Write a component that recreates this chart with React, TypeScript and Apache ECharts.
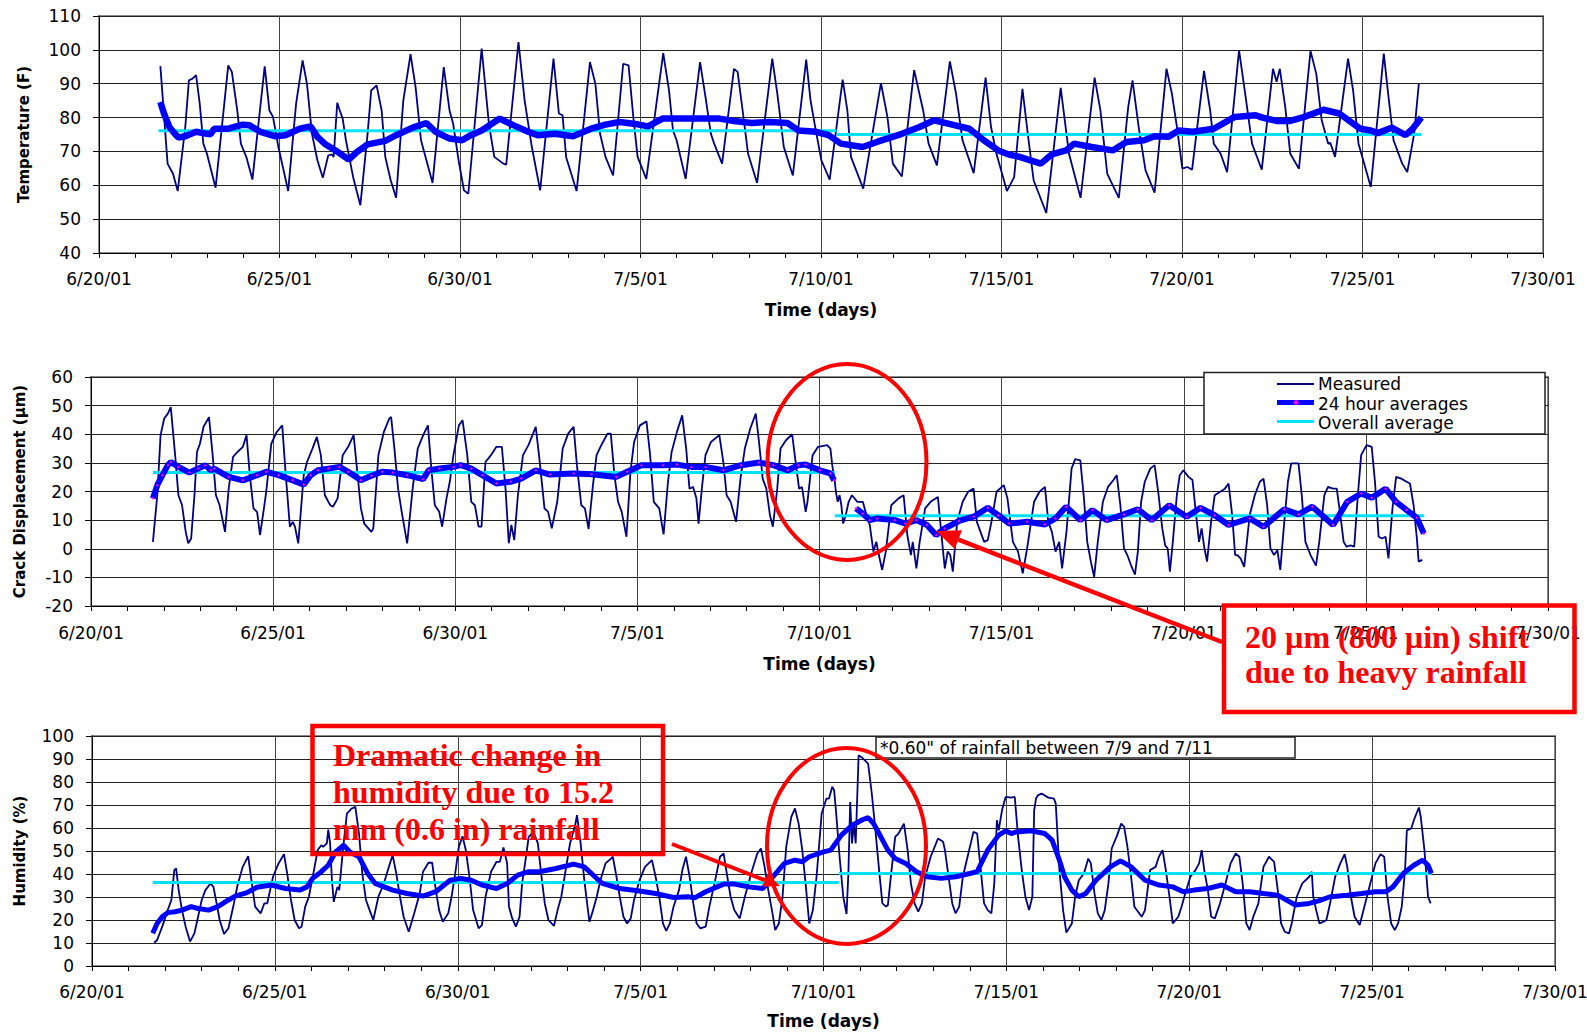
import React, { useEffect, useRef } from "react";
import * as echarts from "echarts";

// Major tick labels on the shared time axis (one every 5 days starting 6/20/01)
const dateTicks = ["6/20/01", "6/25/01", "6/30/01", "7/5/01", "7/10/01", "7/15/01", "7/20/01", "7/25/01", "7/30/01"];

type Pt = [number, number]; // [days since 6/20/01, value]

// ---------- Temperature (F) ----------
const tempMeasured: Pt[] = [
  [1.70,95.2],[1.90,66.4],[2.05,63.4],[2.18,58.3],[2.39,77.2],[2.49,91.0],[2.59,91.5],[2.69,92.5],[2.79,84.1],[2.89,72.3],[2.99,69.3],[3.23,59.3],
  [3.58,95.4],[3.68,93.5],[3.83,82.1],[3.93,72.3],[4.08,68.4],[4.25,61.7],[4.59,95.1],[4.72,82.1],[4.82,80.2],[4.97,71.3],[5.24,58.3],[5.46,84.1],
  [5.64,96.9],[5.76,90.0],[5.90,75.2],[6.05,67.4],[6.20,62.2],[6.35,68.8],[6.45,69.1],[6.50,68.4],[6.60,84.4],[6.67,82.1],[6.75,79.7],[6.84,73.3],
  [7.04,62.4],[7.24,54.1],[7.44,75.2],[7.54,88.0],[7.69,89.5],[7.83,82.1],[7.93,68.4],[8.08,61.5],[8.23,56.3],[8.43,85.1],[8.63,98.7],[8.77,89.0],
  [8.92,73.3],[9.07,67.4],[9.24,60.7],[9.55,94.9],[9.71,82.1],[9.81,78.2],[9.96,67.4],[10.11,58.5],[10.23,57.5],[10.60,100.4],[10.80,78.2],[10.95,68.4],
  [11.20,66.4],[11.28,66.1],[11.62,102.3],[11.79,85.1],[11.99,71.3],[12.22,58.5],[12.59,97.4],[12.74,81.2],[12.84,80.7],[12.94,68.3],[13.23,58.3],
  [13.60,96.4],[13.75,90.0],[13.88,75.2],[14.03,68.4],[14.24,62.9],[14.52,95.9],[14.67,95.4],[14.80,80.2],[14.92,68.4],[15.16,61.9],[15.63,99.0],
  [15.79,88.0],[15.90,76.2],[16.00,73.3],[16.25,61.9],[16.65,96.4],[16.80,86.1],[16.95,75.2],[17.04,72.3],[17.26,66.4],[17.59,94.4],[17.69,93.5],
  [17.84,81.2],[17.98,69.3],[18.23,60.7],[18.65,97.4],[18.79,87.1],[18.97,71.3],[19.22,62.9],[19.59,97.1],[19.71,85.1],[19.84,77.2],[20.01,67.4],
  [20.24,61.7],[20.60,91.2],[20.73,82.1],[20.83,68.4],[21.17,59.0],[21.66,90.2],[21.84,80.2],[21.99,66.4],[22.24,62.6],[22.58,94.0],[22.83,82.1],
  [22.98,72.3],[23.21,65.9],[23.57,96.6],[23.74,87.1],[23.92,73.3],[24.23,63.6],[24.56,91.8],[24.71,77.2],[24.86,69.3],[25.15,58.3],[25.35,62.4],
  [25.58,88.5],[25.75,73.3],[25.89,61.5],[26.24,51.8],[26.64,88.8],[26.87,69.3],[27.19,56.3],[27.58,91.8],[27.74,82.1],[27.93,63.4],[28.25,56.3],
  [28.51,83.1],[28.63,91.0],[28.80,77.2],[28.99,64.4],[29.24,57.8],[29.57,94.4],[29.72,87.1],[29.86,77.2],[30.01,64.9],[30.15,65.4],[30.28,64.6],
  [30.61,93.8],[30.78,82.1],[30.88,72.3],[31.07,69.3],[31.25,63.9],[31.58,99.9],[31.75,87.1],[31.94,72.3],[32.21,64.6],[32.52,94.4],[32.62,90.6],
  [32.71,94.4],[32.86,83.1],[33.00,69.3],[33.24,64.9],[33.56,99.7],[33.72,92.9],[33.87,79.2],[34.05,72.3],[34.11,72.5],[34.24,68.4],[34.60,97.4],
  [34.74,88.0],[34.89,72.3],[35.23,59.5],[35.59,98.9],[35.71,87.1],[35.86,73.3],[36.10,66.4],[36.24,63.9],[36.43,75.2],[36.56,90.0],
];
const tempDaily: Pt[] = [
  [1.70,84.6],[1.80,81.2],[1.95,77.2],[2.10,75.2],[2.20,74.1],[2.39,74.5],[2.69,75.8],[2.99,75.2],[3.09,75.1],[3.19,76.7],[3.58,76.7],[3.98,77.9],
  [4.17,77.7],[4.47,75.8],[4.87,74.5],[5.16,74.8],[5.56,76.7],[5.86,77.4],[6.05,74.3],[6.25,72.3],[6.55,70.3],[6.92,67.6],[7.14,69.8],[7.44,72.1],
  [7.93,73.1],[8.23,74.8],[8.73,77.2],[9.07,78.4],[9.32,75.8],[9.71,73.8],[10.06,73.3],[10.30,74.8],[10.60,76.2],[11.10,79.7],[11.49,77.7],[11.89,75.8],
  [12.15,74.8],[12.64,75.2],[13.13,74.5],[13.63,76.7],[14.03,77.9],[14.42,78.7],[14.92,78.0],[15.21,77.4],[15.61,79.7],[16.20,79.7],[16.60,79.7],
  [17.19,79.7],[17.59,79.0],[18.08,78.4],[18.58,78.7],[19.07,78.4],[19.37,76.2],[19.86,75.8],[20.21,74.8],[20.55,72.3],[21.15,71.3],[21.55,72.8],
  [22.24,75.2],[22.73,77.2],[23.13,79.2],[23.72,77.7],[24.11,76.7],[24.51,73.3],[24.91,70.3],[25.20,69.1],[25.50,68.4],[26.09,66.4],[26.39,69.1],
  [26.79,70.3],[27.01,72.3],[27.50,71.3],[28.08,70.3],[28.46,72.8],[28.95,73.3],[29.24,74.5],[29.62,74.3],[29.91,76.2],[30.30,75.8],[30.88,76.7],
  [31.46,80.2],[32.04,80.7],[32.23,80.0],[32.62,79.0],[33.00,79.0],[33.39,80.2],[33.92,82.3],[34.36,81.2],[34.74,78.2],[34.94,76.7],[35.23,76.2],
  [35.42,75.4],[35.81,77.0],[36.19,74.8],[36.39,76.7],[36.63,80.0],
];
const tempOverallBefore: Pt[] = [[1.65, 76.1], [20.43, 76.1]];
const tempOverallAfter: Pt[] = [[20.43, 75.0], [36.63, 75.0]];

// ---------- Crack displacement (µm) ----------
const crackMeasured: Pt[] = [
  [1.70,2.4],[1.82,18.7],[1.91,39.7],[2.01,45.5],[2.11,47.2],[2.19,49.5],[2.31,32.7],[2.40,18.7],[2.50,15.2],[2.60,5.9],[2.67,1.9],[2.75,3.6],
  [2.84,18.7],[2.91,33.8],[2.99,36.7],[3.09,42.6],[3.24,46.0],[3.34,32.7],[3.43,18.7],[3.53,15.2],[3.68,5.9],[3.78,21.0],[3.90,32.1],[4.02,33.8],
  [4.17,35.6],[4.27,39.7],[4.36,25.7],[4.46,14.1],[4.56,12.9],[4.64,4.8],[4.76,15.2],[4.81,19.9],[4.95,36.7],[5.10,40.8],[5.25,43.1],[5.34,26.9],
  [5.46,7.7],[5.54,9.4],[5.60,7.7],[5.69,1.9],[5.84,25.7],[5.93,30.3],[6.08,35.0],[6.20,39.1],[6.31,32.7],[6.42,18.7],[6.57,15.2],[6.64,14.7],
  [6.72,16.4],[6.77,17.6],[6.91,32.7],[7.06,35.6],[7.21,39.7],[7.31,26.9],[7.41,14.1],[7.50,8.8],[7.70,5.9],[7.75,7.1],[7.89,32.7],[8.04,40.8],
  [8.19,45.5],[8.24,46.0],[8.33,35.0],[8.43,21.0],[8.53,12.9],[8.68,1.9],[8.83,21.0],[8.97,35.0],[9.12,39.7],[9.25,43.1],[9.35,26.9],[9.44,15.2],
  [9.56,12.9],[9.64,7.7],[9.76,17.6],[9.85,23.4],[9.95,32.7],[10.10,43.1],[10.20,44.9],[10.33,32.7],[10.44,16.4],[10.54,15.2],[10.64,7.7],[10.72,7.7],
  [10.83,30.3],[10.98,32.7],[11.13,35.6],[11.28,35.6],[11.38,21.0],[11.47,1.9],[11.54,8.3],[11.62,3.0],[11.72,18.7],[11.86,32.7],[12.01,36.2],
  [12.21,42.6],[12.31,31.5],[12.45,14.1],[12.55,12.9],[12.65,7.1],[12.80,16.4],[12.95,35.0],[13.10,40.2],[13.25,42.6],[13.34,29.2],[13.46,15.2],
  [13.56,14.1],[13.66,6.9],[13.78,22.2],[13.88,32.7],[14.03,36.7],[14.18,40.2],[14.27,40.2],[14.37,25.7],[14.47,16.4],[14.57,12.9],[14.70,4.2],
  [14.81,26.9],[14.91,37.3],[15.07,43.1],[15.25,44.5],[15.35,32.7],[15.45,16.4],[15.60,14.1],[15.72,5.0],[15.84,23.4],[15.94,33.8],[16.09,41.0],
  [16.23,46.6],[16.34,35.0],[16.43,21.0],[16.53,21.6],[16.62,17.6],[16.68,8.8],[16.77,21.0],[16.87,32.7],[17.02,37.3],[17.25,39.7],[17.36,30.3],
  [17.45,18.7],[17.56,16.4],[17.71,9.4],[17.83,24.5],[17.95,35.0],[18.10,42.0],[18.25,47.2],[18.34,37.3],[18.44,24.5],[18.54,21.0],[18.64,11.7],
  [18.72,7.7],[18.84,21.0],[18.93,35.0],[19.08,37.9],[19.25,40.0],[19.32,32.7],[19.44,21.0],[19.52,21.6],[19.62,12.9],[19.67,16.4],[19.81,32.7],
  [19.96,35.6],[20.21,36.2],[20.30,35.0],[20.35,29.2],[20.42,23.4],[20.45,19.9],[20.50,16.4],[20.55,18.7],[20.60,15.2],[20.65,8.8],[20.72,11.7],
  [20.80,16.4],[20.89,18.7],[21.04,16.4],[21.19,16.4],[21.29,11.7],[21.38,8.3],[21.48,-1.0],[21.56,2.4],[21.63,-2.2],[21.72,-7.4],[21.82,-1.0],
  [21.97,15.2],[22.17,17.6],[22.31,18.7],[22.41,4.8],[22.51,-2.2],[22.56,2.4],[22.66,-6.9],[22.75,2.4],[22.90,14.1],[23.05,16.4],[23.25,18.1],
  [23.34,5.9],[23.44,-6.9],[23.52,-1.0],[23.59,-2.2],[23.66,-8.0],[23.78,9.4],[23.93,16.4],[24.08,19.9],[24.23,21.0],[24.32,9.4],[24.42,5.9],
  [24.52,2.4],[24.62,3.0],[24.72,9.4],[24.86,19.9],[25.06,22.2],[25.16,17.6],[25.31,2.4],[25.45,-1.0],[25.58,-8.6],[25.70,0.1],[25.89,16.4],
  [26.04,19.9],[26.19,21.6],[26.28,9.4],[26.38,5.9],[26.48,-1.0],[26.58,2.4],[26.66,-6.9],[26.78,5.9],[26.92,28.0],[27.02,31.3],[27.16,30.9],
  [27.26,17.6],[27.35,2.4],[27.45,-4.5],[27.54,-9.8],[27.64,2.4],[27.78,16.4],[27.92,21.6],[28.07,24.0],[28.16,25.7],[28.26,15.2],[28.36,0.1],
  [28.45,-2.2],[28.55,-5.7],[28.66,-9.0],[28.74,-1.0],[28.83,16.4],[28.93,23.4],[29.08,28.0],[29.20,29.2],[29.31,18.7],[29.41,7.1],[29.49,1.2],
  [29.56,0.1],[29.62,-8.0],[29.70,2.4],[29.81,18.7],[29.89,25.7],[29.99,27.4],[30.13,25.1],[30.24,24.0],[30.32,14.1],[30.42,2.4],[30.49,7.1],
  [30.56,0.7],[30.64,-4.5],[30.75,9.4],[30.85,18.7],[31.00,19.9],[31.13,21.0],[31.23,22.8],[31.33,11.7],[31.41,-2.2],[31.47,-2.2],[31.56,-3.4],
  [31.66,-6.3],[31.81,11.7],[31.95,18.7],[32.09,23.4],[32.19,24.5],[32.29,15.2],[32.38,0.1],[32.48,-2.2],[32.57,-0.5],[32.65,-7.4],[32.76,9.4],
  [32.86,23.4],[32.95,29.8],[33.15,29.8],[33.24,18.7],[33.34,2.4],[33.48,-2.2],[33.63,-5.9],[33.72,2.4],[33.86,18.7],[33.96,21.6],[34.10,21.0],
  [34.20,21.0],[34.30,11.7],[34.39,2.4],[34.47,0.7],[34.58,1.2],[34.68,0.7],[34.78,18.7],[34.87,32.7],[35.02,36.2],[35.16,35.6],[35.25,23.4],
  [35.35,4.2],[35.44,3.6],[35.54,4.2],[35.62,-3.4],[35.73,14.1],[35.83,25.1],[35.97,24.5],[36.12,23.4],[36.21,22.8],[36.31,15.2],[36.40,3.6],
  [36.45,-4.5],[36.55,-3.9],
];
const crackDailyBefore: Pt[] = [
  [1.70,17.6],[1.82,22.2],[1.96,25.7],[2.11,29.2],[2.19,30.3],[2.40,28.6],[2.70,26.6],[2.94,28.0],[3.14,29.2],[3.29,27.4],[3.38,28.0],[3.78,25.1],
  [4.17,23.9],[4.56,25.7],[4.81,26.9],[5.15,25.7],[5.54,23.9],[5.84,22.4],[6.03,25.7],[6.23,27.4],[6.52,28.0],[6.82,28.6],[7.06,26.9],[7.41,23.9],
  [7.70,25.5],[7.99,26.9],[8.29,26.6],[8.68,25.7],[9.12,24.3],[9.27,27.4],[9.56,28.0],[9.95,28.6],[10.15,29.2],[10.44,28.0],[10.74,25.7],[11.13,22.8],
  [11.52,23.4],[11.81,24.5],[12.21,27.4],[12.60,25.9],[13.25,26.3],[13.74,26.0],[14.42,25.1],[14.72,26.9],[15.11,29.2],[15.70,29.2],[16.09,29.4],
  [16.48,28.6],[16.87,28.6],[17.36,27.4],[17.85,29.2],[18.34,30.1],[18.73,29.2],[19.13,27.4],[19.42,29.2],[19.62,29.4],[20.01,27.4],[20.30,26.3],
  [20.40,23.9],
];
const crackDailyAfter: Pt[] = [
  [21.00,14.1],[21.19,12.3],[21.38,10.0],[21.58,10.6],[22.07,10.0],[22.36,8.8],[22.66,10.0],[22.95,8.3],[23.20,4.8],[23.44,7.1],[23.83,9.7],
  [24.23,11.2],[24.62,14.3],[24.91,11.7],[25.21,8.8],[25.70,9.4],[26.19,8.5],[26.48,10.6],[26.77,14.7],[27.16,10.0],[27.49,13.5],[27.88,10.0],
  [28.36,12.0],[28.74,13.8],[29.12,10.0],[29.60,15.2],[30.08,11.2],[30.46,14.3],[30.85,11.7],[31.23,8.3],[31.81,10.6],[32.19,7.7],[32.76,13.8],
  [33.15,12.0],[33.53,14.7],[34.10,8.3],[34.49,16.4],[34.87,19.3],[35.16,17.8],[35.54,21.0],[35.83,16.4],[36.12,13.5],[36.40,10.8],[36.59,5.3],
];
const crackOverallBefore: Pt[] = [[1.70, 26.6], [20.42, 26.6]];
const crackOverallAfter: Pt[] = [[20.42, 11.5], [36.60, 11.5]];

// ---------- Humidity (%) ----------
const humidMeasured: Pt[] = [
  [1.70,10.1],[1.78,11.3],[1.92,17.1],[2.07,24.3],[2.17,28.7],[2.25,41.7],[2.30,42.4],[2.37,33.0],[2.46,24.3],[2.56,17.1],[2.68,10.6],[2.80,14.2],
  [2.90,21.4],[3.00,28.7],[3.10,33.0],[3.24,35.9],[3.32,34.4],[3.39,28.7],[3.49,20.0],[3.61,13.9],[3.73,16.4],[3.88,27.2],[3.98,35.2],[4.12,43.1],
  [4.27,47.8],[4.37,35.9],[4.46,25.8],[4.61,22.9],[4.71,27.2],[4.79,27.2],[4.85,31.5],[4.95,38.8],[5.10,44.6],[5.25,48.6],[5.35,38.8],[5.44,28.7],
  [5.54,20.0],[5.66,16.4],[5.73,17.1],[5.83,25.8],[5.93,30.1],[6.07,41.7],[6.17,50.4],[6.27,52.5],[6.32,51.8],[6.42,53.3],[6.46,59.3],[6.51,53.3],
  [6.56,37.3],[6.61,27.9],[6.71,34.4],[6.76,33.0],[6.86,50.4],[6.97,66.3],[7.10,68.5],[7.20,69.2],[7.30,57.6],[7.39,40.2],[7.49,28.7],[7.59,24.3],
  [7.69,20.0],[7.83,30.1],[7.98,35.9],[8.13,43.8],[8.22,48.2],[8.32,40.2],[8.42,30.1],[8.52,21.4],[8.66,14.9],[8.81,22.9],[8.96,31.5],[9.05,41.0],
  [9.20,44.9],[9.30,44.9],[9.40,33.0],[9.49,24.3],[9.59,19.2],[9.74,22.9],[9.83,30.1],[9.93,40.2],[10.03,51.8],[10.13,56.4],[10.22,50.4],[10.32,38.8],
  [10.42,24.3],[10.57,16.4],[10.66,17.8],[10.76,30.1],[10.91,41.0],[11.06,45.3],[11.15,45.3],[11.25,51.5],[11.35,44.6],[11.40,25.8],[11.49,20.7],
  [11.59,17.1],[11.69,21.4],[11.76,35.9],[11.84,44.6],[11.94,56.1],[12.03,57.6],[12.09,57.6],[12.19,53.3],[12.29,38.8],[12.38,27.2],[12.48,20.0],
  [12.63,17.4],[12.73,24.3],[12.83,30.1],[12.92,38.8],[13.07,53.3],[13.21,61.2],[13.26,65.6],[13.36,53.3],[13.46,37.3],[13.56,24.3],[13.60,19.2],
  [13.70,24.3],[13.80,30.1],[13.90,37.3],[14.04,44.6],[14.19,46.7],[14.24,47.5],[14.34,38.8],[14.43,30.1],[14.53,21.4],[14.63,18.5],[14.73,20.7],
  [14.82,28.7],[14.97,37.3],[15.12,43.1],[15.31,46.0],[15.41,38.8],[15.51,30.1],[15.61,18.5],[15.70,15.3],[15.80,18.5],[15.90,25.8],[16.05,33.0],
  [16.14,41.7],[16.24,47.5],[16.34,38.8],[16.44,27.2],[16.53,18.5],[16.63,16.4],[16.78,17.1],[16.88,25.8],[17.02,35.9],[17.17,47.5],[17.27,48.9],
  [17.37,38.8],[17.46,30.1],[17.56,24.3],[17.71,20.7],[17.85,30.1],[18.05,41.7],[18.19,48.9],[18.29,51.1],[18.39,43.1],[18.49,33.0],[18.59,24.3],
  [18.68,15.6],[18.78,18.5],[18.88,30.1],[18.98,51.8],[19.12,64.8],[19.22,68.5],[19.32,61.9],[19.42,50.4],[19.51,35.9],[19.61,18.5],[19.71,24.3],
  [19.81,38.8],[19.95,66.3],[20.08,72.8],[20.15,72.8],[20.24,77.9],[20.29,76.4],[20.34,67.7],[20.44,47.5],[20.54,30.1],[20.63,22.6],[20.68,40.2],
  [20.73,71.3],[20.78,53.3],[20.83,61.9],[20.88,53.3],[20.96,91.6],[21.03,90.9],[21.13,89.4],[21.22,88.0],[21.32,75.0],[21.42,59.0],[21.52,41.7],
  [21.61,27.2],[21.71,25.8],[21.76,26.5],[21.86,41.7],[21.96,56.1],[22.05,57.6],[22.15,60.5],[22.20,61.9],[22.30,50.4],[22.39,35.9],[22.49,27.2],
  [22.59,23.6],[22.69,27.2],[22.78,38.8],[22.93,47.5],[23.13,55.4],[23.27,54.0],[23.32,50.4],[23.42,38.8],[23.52,27.2],[23.61,22.9],[23.71,25.8],
  [23.81,38.8],[23.96,48.9],[24.10,58.3],[24.20,57.6],[24.30,41.7],[24.39,27.2],[24.49,24.3],[24.59,22.9],[24.67,35.9],[24.74,63.4],[24.79,59.0],
  [24.88,67.7],[24.98,73.5],[25.13,73.2],[25.23,73.5],[25.32,56.1],[25.42,41.7],[25.52,30.1],[25.62,24.3],[25.71,30.1],[25.76,67.7],[25.81,72.8],
  [25.86,74.2],[25.96,75.0],[26.15,73.2],[26.30,72.8],[26.35,70.6],[26.40,56.1],[26.45,41.7],[26.55,24.3],[26.64,14.5],[26.79,18.5],[26.88,30.1],
  [26.98,37.3],[27.12,40.2],[27.24,46.7],[27.31,44.6],[27.41,31.5],[27.50,22.9],[27.60,20.0],[27.69,24.3],[27.79,35.9],[27.88,51.1],[28.03,56.9],
  [28.14,61.9],[28.22,60.5],[28.31,51.8],[28.41,38.8],[28.50,25.8],[28.70,21.4],[28.79,24.3],[28.93,41.7],[29.08,43.1],[29.17,47.5],[29.27,50.4],
  [29.36,41.7],[29.46,30.1],[29.55,18.5],[29.70,21.4],[29.79,25.8],[29.89,31.5],[30.03,38.8],[30.17,41.7],[30.27,44.6],[30.34,50.4],[30.41,41.7],
  [30.51,33.0],[30.60,21.4],[30.70,20.7],[30.84,27.2],[30.99,35.9],[31.13,44.6],[31.27,48.9],[31.37,47.5],[31.46,35.9],[31.56,18.5],[31.65,15.6],
  [31.75,21.4],[31.89,27.2],[32.03,43.1],[32.18,47.5],[32.32,45.3],[32.42,33.0],[32.51,18.5],[32.61,14.9],[32.73,14.2],[32.80,18.5],[32.94,30.1],
  [33.09,35.9],[33.28,38.8],[33.35,41.0],[33.39,30.1],[33.47,24.3],[33.56,18.5],[33.66,19.2],[33.75,20.0],[33.85,27.2],[33.99,38.8],[34.13,44.6],
  [34.25,48.6],[34.32,43.1],[34.42,30.1],[34.52,21.4],[34.66,17.8],[34.81,27.2],[34.95,35.9],[35.09,44.6],[35.23,48.6],[35.33,47.5],[35.42,30.1],
  [35.52,18.5],[35.62,15.6],[35.71,18.5],[35.81,25.8],[35.90,41.7],[35.95,59.0],[36.07,59.8],[36.14,63.4],[36.28,68.9],[36.33,64.8],[36.43,50.4],
  [36.53,30.1],[36.60,27.2],
];
const humidDaily: Pt[] = [
  [1.66,14.2],[1.78,18.5],[1.92,21.4],[2.07,23.2],[2.27,23.6],[2.46,24.3],[2.71,25.8],[2.90,25.0],[3.19,24.3],[3.44,25.8],[3.73,28.7],[3.93,30.5],
  [4.22,31.8],[4.51,34.2],[4.90,35.2],[5.29,33.7],[5.68,33.0],[5.88,34.4],[6.03,38.1],[6.27,41.0],[6.46,43.8],[6.66,49.6],[6.88,52.5],[7.05,49.6],
  [7.30,47.5],[7.54,40.2],[7.74,35.9],[8.22,33.0],[8.61,31.5],[9.05,30.4],[9.40,32.3],[9.79,37.3],[10.08,38.1],[10.37,37.3],[10.66,35.2],[11.06,33.7],
  [11.35,35.9],[11.64,39.5],[11.94,41.0],[12.23,41.0],[12.68,42.4],[13.17,44.3],[13.46,43.1],[13.75,38.8],[13.95,35.9],[14.43,33.7],[14.92,32.7],
  [15.41,31.5],[15.90,29.8],[16.29,30.1],[16.49,29.7],[16.78,32.3],[17.27,35.6],[17.56,35.6],[17.95,34.4],[18.34,33.7],[18.54,37.3],[18.93,44.6],
  [19.22,46.0],[19.42,45.3],[19.61,47.5],[20.00,49.6],[20.20,50.4],[20.29,52.5],[20.49,56.9],[20.78,61.2],[21.08,63.7],[21.22,64.5],[21.37,61.9],
  [21.47,59.0],[21.76,50.4],[21.96,46.7],[22.25,44.6],[22.54,41.0],[22.83,38.8],[23.22,38.1],[23.61,38.8],[24.00,40.2],[24.20,41.0],[24.49,50.4],
  [24.79,56.9],[24.98,58.8],[25.13,57.6],[25.27,58.3],[25.67,58.8],[26.05,57.6],[26.25,54.7],[26.45,46.0],[26.59,38.8],[26.79,33.0],[26.98,30.1],
  [27.17,31.5],[27.45,37.3],[27.84,43.1],[28.12,45.7],[28.41,43.1],[28.79,37.3],[29.17,35.2],[29.55,34.4],[29.84,32.3],[30.13,33.0],[30.51,33.7],
  [30.89,35.2],[31.27,32.3],[31.65,32.3],[32.03,31.5],[32.42,30.8],[32.90,26.5],[33.28,27.2],[33.56,28.4],[33.85,30.1],[34.32,30.8],[34.71,31.5],
  [35.09,32.3],[35.38,32.3],[35.57,34.4],[35.85,40.2],[36.14,43.8],[36.38,46.0],[36.53,43.8],[36.62,40.2],
];
const humidOverallBefore: Pt[] = [[1.66, 36.3], [20.42, 36.3]];
const humidOverallAfter: Pt[] = [[20.42, 40.2], [36.62, 40.2]];

// ---------- styling ----------
const FONT = '"DejaVu Sans", Verdana, Arial, sans-serif';
const SERIF = '"Liberation Serif", "Times New Roman", serif';
const NAVY = "#000080";
const BLUE = "#0000FF";
const MAGENTA = "#FF00FF";
const CYAN = "#00E1FF";
const RED = "#FF0000";

const grids = [
  { left: 99, top: 16, width: 1444, height: 237 },
  { left: 91, top: 377, width: 1457, height: 229 },
  { left: 92, top: 736, width: 1463, height: 230 },
];

function xAxisFor(gridIndex: number, labelMargin: number, nameGap: number) {
  return {
    gridIndex,
    type: "value",
    min: 0,
    max: 40,
    interval: 5,
    axisLine: { show: true, onZero: false, lineStyle: { color: "#000", width: 1 } },
    axisTick: { show: true, length: 5, lineStyle: { color: "#000" } },
    minorTick: { show: true, splitNumber: 5, length: 5, lineStyle: { color: "#000" } },
    splitLine: { show: true, lineStyle: { color: "#444", width: 1 } },
    axisLabel: {
      formatter: (v: number) => dateTicks[Math.round(v / 5)] ?? "",
      fontFamily: FONT,
      fontSize: 17,
      color: "#000",
      margin: labelMargin,
    },
    name: "Time (days)",
    nameLocation: "middle",
    nameGap,
    nameTextStyle: { fontFamily: FONT, fontSize: 17, fontWeight: "bold", color: "#000" },
  };
}

function yAxisFor(gridIndex: number, min: number, max: number, name: string, nameGap: number) {
  return {
    gridIndex,
    type: "value",
    min,
    max,
    interval: 10,
    axisLine: { show: true, onZero: false, lineStyle: { color: "#000", width: 1 } },
    axisTick: { show: true, length: 6, lineStyle: { color: "#000" } },
    splitLine: { show: true, lineStyle: { color: "#222", width: 1 } },
    axisLabel: { fontFamily: FONT, fontSize: 17, color: "#000", margin: 18 },
    name,
    nameLocation: "middle",
    nameGap,
    nameTextStyle: { fontFamily: FONT, fontSize: 15, fontWeight: "bold", color: "#000" },
  };
}

function line(name: string, idx: number, data: Pt[], color: string, width: number, z: number, markerSize = 0) {
  return {
    type: "line",
    name,
    xAxisIndex: idx,
    yAxisIndex: idx,
    data,
    silent: true,
    z,
    symbol: markerSize > 0 ? "diamond" : "none",
    symbolSize: markerSize,
    showSymbol: markerSize > 0,
    itemStyle: { color: MAGENTA, borderWidth: 0 },
    lineStyle: { color, width },
    emphasis: { disabled: true },
  };
}

function panelSeries(idx: number, measured: Pt[], daily: Pt[][], overall: Pt[][], dailyWidth: number, markerSize: number) {
  const out: any[] = [line("Measured", idx, measured, NAVY, 1.8, 2)];
  overall.forEach((seg) => out.push(line("Overall average", idx, seg, CYAN, 3, 3)));
  daily.forEach((seg) => out.push(line("24 hour averages", idx, seg, BLUE, dailyWidth, 4, markerSize)));
  return out;
}

function arrow(tail: [number, number], tip: [number, number], headLen: number, headHalf: number, width: number) {
  const dx = tip[0] - tail[0];
  const dy = tip[1] - tail[1];
  const len = Math.hypot(dx, dy);
  const ux = dx / len;
  const uy = dy / len;
  const bx = tip[0] - ux * headLen;
  const by = tip[1] - uy * headLen;
  return [
    { type: "line", z: 10, shape: { x1: tail[0], y1: tail[1], x2: bx, y2: by }, style: { stroke: RED, lineWidth: width } },
    {
      type: "polygon",
      z: 10,
      shape: { points: [tip, [bx - uy * headHalf, by + ux * headHalf], [bx + uy * headHalf, by - ux * headHalf]] },
      style: { fill: RED },
    },
  ];
}

function label(text: string, x: number, y: number, font: string, fill: string, z: number) {
  return {
    type: "text",
    z,
    x,
    y,
    style: { text, font, fill, align: "left", verticalAlign: "middle", textAlign: "left", textVerticalAlign: "middle" },
  };
}

const redFont = `bold 32px ${SERIF}`;
const smallFont = `17px ${FONT}`;

const graphics: any[] = [
  // legend of the crack displacement panel
  { type: "rect", z: 5, shape: { x: 1204, y: 372.5, width: 341, height: 61.5 }, style: { fill: "#fff", stroke: "#222", lineWidth: 1.5 } },
  { type: "line", z: 6, shape: { x1: 1277, y1: 384, x2: 1314, y2: 384 }, style: { stroke: NAVY, lineWidth: 1.8 } },
  { type: "line", z: 6, shape: { x1: 1277, y1: 402.5, x2: 1314, y2: 402.5 }, style: { stroke: BLUE, lineWidth: 5 } },
  { type: "polygon", z: 7, shape: { points: [[1296, 399.5], [1299, 402.5], [1296, 405.5], [1293, 402.5]] }, style: { fill: MAGENTA } },
  { type: "line", z: 6, shape: { x1: 1277, y1: 421.5, x2: 1314, y2: 421.5 }, style: { stroke: CYAN, lineWidth: 3 } },
  label("Measured", 1318, 384, smallFont, "#000", 7),
  label("24 hour averages", 1318, 404, smallFont, "#000", 7),
  label("Overall average", 1318, 423, smallFont, "#000", 7),

  // rainfall note on the humidity panel
  { type: "rect", z: 5, shape: { x: 876, y: 737, width: 419, height: 21 }, style: { fill: "#fff", stroke: "#222", lineWidth: 1.5 } },
  label('*0.60" of rainfall between 7/9 and 7/11', 880, 748, smallFont, "#000", 6),

  // crack displacement callout
  { type: "ellipse", z: 10, shape: { cx: 847, cy: 462, rx: 79.5, ry: 98 }, style: { fill: "none", stroke: RED, lineWidth: 4 } },
  ...arrow([1222, 642], [936, 531], 24, 10, 4.5),
  { type: "rect", z: 10, shape: { x: 1224, y: 605.5, width: 350.5, height: 106.5 }, style: { fill: "none", stroke: RED, lineWidth: 4.5 } },
  label("20 µm (800 µin) shift", 1245, 637, redFont, RED, 11),
  label("due to heavy rainfall", 1245, 672, redFont, RED, 11),

  // humidity callout
  { type: "ellipse", z: 10, shape: { cx: 846.5, cy: 846, rx: 79.5, ry: 98 }, style: { fill: "none", stroke: RED, lineWidth: 4 } },
  ...arrow([672, 844], [780, 886], 16, 7, 4),
  { type: "rect", z: 10, shape: { x: 312.5, y: 726, width: 350.5, height: 128 }, style: { fill: "none", stroke: RED, lineWidth: 4.5 } },
  label("Dramatic change in", 333, 755, redFont, RED, 11),
  label("humidity due to 15.2", 333, 792, redFont, RED, 11),
  label("mm (0.6 in) rainfall", 333, 828.5, redFont, RED, 11),
];

const option: any = {
  animation: false,
  backgroundColor: "#fff",
  grid: grids.map((g) => ({
    ...g,
    containLabel: false,
    outerBoundsMode: "none",
    show: true,
    borderColor: "#8a8a8a",
    borderWidth: 2,
    backgroundColor: "transparent",
  })),
  xAxis: [xAxisFor(0, 17.5, 48), xAxisFor(1, 18.5, 49), xAxisFor(2, 17, 46)],
  yAxis: [
    yAxisFor(0, 40, 110, "Temperature (F)", 68),
    yAxisFor(1, -20, 60, "Crack Displacement (µm)", 64),
    yAxisFor(2, 0, 100, "Humidity (%)", 65),
  ],
  series: [
    ...panelSeries(0, tempMeasured, [tempDaily], [tempOverallBefore, tempOverallAfter], 6.5, 0),
    ...panelSeries(1, crackMeasured, [crackDailyBefore, crackDailyAfter], [crackOverallBefore, crackOverallAfter], 6, 3),
    ...panelSeries(2, humidMeasured, [humidDaily], [humidOverallBefore, humidOverallAfter], 5, 0),
  ],
  graphic: { elements: graphics },
};

export default function App() {
  const ref = useRef<HTMLDivElement>(null);
  useEffect(() => {
    document.body.style.margin = "0";
    const chart = echarts.init(ref.current as HTMLDivElement, null, { renderer: "svg" });
    chart.setOption(option);
    return () => chart.dispose();
  }, []);
  return <div ref={ref} style={{ width: 1587, height: 1032, background: "#fff" }} />;
}
